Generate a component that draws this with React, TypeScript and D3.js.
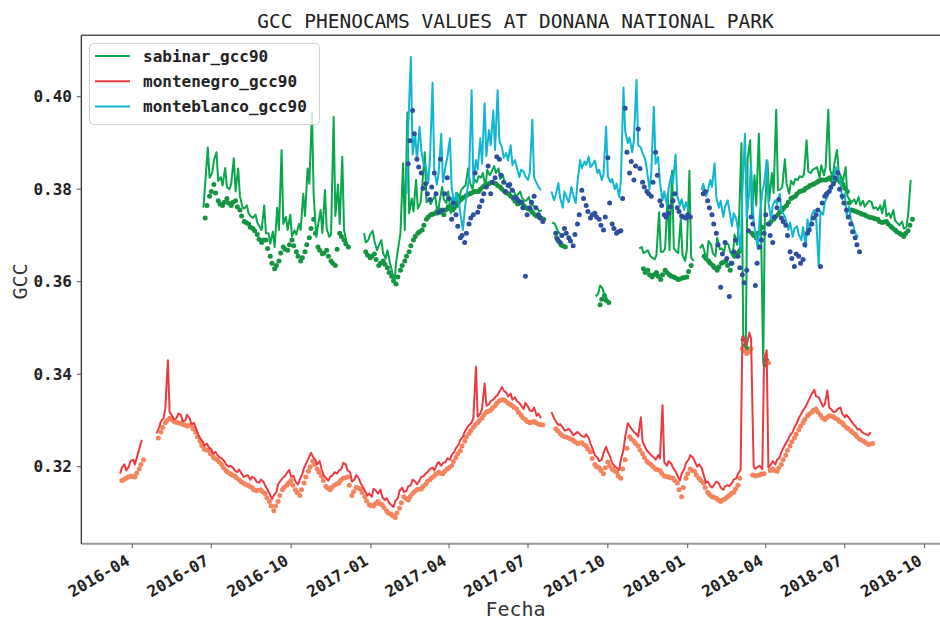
import React from "react";
import * as d3 from "d3";

// daily camera values, every 5 days (two interleaved passes)
const STEP_DAYS = 5;

const sabinarStart = "2016-06-22";
const sabinarGcc90: (number | null)[] = [
  .376, .389, .3835, .388, .3826, .3846, .380, .3867, .3845, .3761,
  .3765, .374, .3745, .3718, .3765, .3705, .3708, .376, .3885, .374,
  .3745, .3711, .3725, .379, .3845, .3965, .3697, .3755, .3798, .3697,
  .3956, .381, .387, .3683, null, null, null, .3705, .369, .371,
  .3668, .369, .365, .364, .3597, .368, .3856, .3966, .378, .382,
  .377, .388, .3776, .378, .3745, .3805, .377, .3748, .3765, .3783,
  .3805, .3845, .380, .3815, .3825, .3805, .383, .385, .3845, .383,
  .381, .380, .3785, .3795, .3775, .3783, .3765, .3758, .3755, null,
  null, .3725, .3705, .370, null, null, null, null, null, null,
  null, .3575, .3585, .3565, null, null, null, null, null, null,
  null, .3675, .3665, .3655, .3648, .375, .3665, .379, .384, .3665,
  .3735, .3645, .384, .3645, null, .368, .3645, .368, .3655, .367,
  .3665, .368, .3655, .368, .390, .346, .3906, .383, .392, .3425,
  .386, .3835, .3972, .380, .3865, .379, .381, .382, .3826, .3906,
  .3835, .3845, .3825, .383, .3972, .3826, .3885, .3826, .3848, .3776,
  .3778, .3783, .3775, .377, .3772, .3761, .3765, .3776, .3748, .3755,
  .3726, .373, .3718, .382,
];
const sabinarBStart = "2016-06-24";
const sabinarGcc90B: (number | null)[] = [
  .3812, .3825, .3862, .3818, .3808, .3805, .3812, .3795, .3785, .3758,
  .3748, .3738, .3728, .3712, .3705, .3682, .3675, .3712, .3725, .3712,
  .3698, .3702, .3712, .3742, .3812, .3788, .3722, .3705, .3715, .3702,
  .3742, .3725, .3712, null, null, null, null, .3685, .3702, .3688,
  .3678, .3662, .3668, .3625, .3642, .3705, .3712, .3748, .3752, .3758,
  .3805, .3772, .3768, .3785, .3772, .3778, .3795, .3782, .3792, .3798,
  .3808, .3815, .3822, .3828, .3835, .3842, .3838, .3835, .3822, .3815,
  .3805, .3798, .3788, .3782, .3775, .3768, .3762, .3752, null, null,
  .3728, .3715, .3702, null, null, null, null, null, null, null,
  .3568, .3592, .3572, null, null, null, null, null, null, null,
  .3672, .3662, .3668, .3652, .3658, .3665, .3672, .3668, .3672, .3662,
  .3658, .3668, .3652, null, .3672, .3668, .3688, .3662, .3695, .3672,
  .3685, .3665, .3702, .3725, .3485, .3865, .3745, .3765, .3778, .3755,
  .3775, .3792, .3798, .3805, .3812, .3818, .3822, .3828, .3832, .3838,
  .3842, .3848, .3852, .3848, .3842, .3855, .3838, .3818, .3785, .3772,
  .3768, .3765, .3762, .3775, .3758, .3755, .3748, .3742, .3738, .3732,
  .3722, .3715, .3745, null,
];
const sabinarDotsStart = "2016-06-24";
const sabinarDots: (number | null)[] = [
  .3738, .3785, .381, .3775, .3765, .378, .3765, .3775, .3755, .373,
  .3725, .3715, .3702, .3685, .369, .3655, .3628, .3645, .3675, .3668,
  .369, .3665, .3645, .3665, .3695, .3735, .3675, .366, .3668, .3645,
  .3635, .3705, .369, .3675, null, null, null, .3665, .3652, .366,
  .3635, .3645, .363, .3612, .3595, .3625, .3645, .3665, .369, .3705,
  .3712, .3735, .3745, .3748, .3755, .3745, .3762, .3755, .3765, .3778,
  .3785, .379, .3795, .3795, .3805, .381, .3815, .3812, .3805, .3795,
  .379, .378, .3768, .3772, .376, .3755, .3745, .374, .3735, null,
  null, .3695, .368, .3675, null, null, null, null, null, null,
  null, .355, .357, .3555, null, null, null, null, null, null,
  null, .3628, .3625, .361, .362, .3605, .3625, .3615, .361, .3605,
  .3608, .361, .3635, null, null, .3655, .3645, .3635, .3625, .364,
  .3645, .3625, .3655, .3665, .3475, .3455, .3705, .3695, .3715, .342,
  .3725, .3735, .3745, .3755, .3765, .378, .3785, .3795, .3798, .3805,
  .381, .3815, .382, .382, .3825, .3818, .3822, .381, .3795, .3755,
  .3752, .3748, .3745, .374, .3738, .3735, .3728, .373, .372, .3712,
  .3705, .3698, .371, .3735,
];
const sabinarDotsBStart = "2016-06-26";
const sabinarDotsB: (number | null)[] = [
  .3765, .3795, .3792, .3768, .3772, .377, .3772, .3762, .3742, .3728,
  .3718, .371, .3692, .369, .3672, .364, .3635, .3662, .367, .368,
  .3678, .3655, .3652, .368, .3715, .3705, .3668, .3662, .3655, .364,
  .367, .3698, .3682, null, null, null, null, .3658, .3655, .3648,
  .364, .3638, .362, .3602, .361, .3635, .3655, .3678, .3698, .3708,
  .3722, .374, .3746, .3752, .375, .3755, .3758, .376, .3772, .3782,
  .3788, .3792, .3795, .38, .3808, .3812, .3814, .3808, .38, .3792,
  .3785, .3774, .377, .3765, .3758, .375, .3742, .3738, null, null,
  null, .3688, .3678, null, null, null, null, null, null, null,
  null, .3562, .356, null, null, null, null, null, null, null,
  null, .362, .3615, .3615, .3612, .3615, .362, .3612, .3608, .3606,
  .3609, .3622, null, null, null, .365, .364, .363, .3632, .3642,
  .3635, .364, .366, .367, .3462, .345, .37, .3705, .3718, .343,
  .373, .374, .375, .376, .3772, .3782, .379, .3796, .3802, .3808,
  .3812, .3818, .382, .3822, .382, .382, .3815, .3802, .377, .3754,
  .375, .3746, .3742, .3739, .3736, .373, .3729, .3725, .3716, .3708,
  .3702, .3704, .3722, null,
];

const montenegroStart = "2016-03-18";
const montenegroGcc90: (number | null)[] = [
  .3185, .3205, .3200, .3215, .3225, .3258, null, null, null, .3285,
  .3305, .343, .331, .3305, .3312, .330, .3305, .3295, .327, .3255,
  .325, .3238, .3232, .322, .3212, .320, .3198, .3188, .3185, .318,
  .3172, .3175, .3165, .3168, .315, .313, .3145, .317, .318, .3193,
  .318, .3162, .3185, .321, .323, .3215, .3212, .318, .317, .3182,
  .3185, .3195, .3205, .3188, .3172, .3175, .3155, .3138, .3135, .3148,
  .315, .3128, .3122, .3113, .3132, .3155, .3148, .316, .3168, .317,
  .318, .319, .3198, .3205, .3202, .321, .3215, .3232, .3248, .3265,
  .3285, .3295, .3416, .3315, .338, .3335, .3345, .3355, .3372, .336,
  .3358, .335, .3338, .3325, .333, .332, .331, .3305, null, null,
  .3305, .329, .3285, .328, .3275, .3272, .327, .3264, .3262, .3236,
  .322, .3215, .3243, .322, .320, .3193, .3236, .3294, .328, .327,
  .3307, .3242, .3229, .322, .3225, .3333, .3202, .3207, .319, .317,
  .3195, .3215, .322, .320, .3198, .3165, .3158, .3162, .3164, .315,
  .316, .3165, .3175, .3193, .3475, .349, .320, .320, .3195, .3452,
  .3205, .3205, .322, .3243, .326, .3275, .3295, .3315, .333, .335,
  .3366, .335, .333, .3365, .3323, .332, .3328, .3307, .3305, .3292,
  .328, .3275, .327, .3275,
];
const montenegroBStart = "2016-03-20";
const montenegroGcc90B: (number | null)[] = [
  .3198, .3192, .3212, .3205, .3238, null, null, null, .3272, .3298,
  .3325, .3318, .3302, .3315, .3298, .3312, .3292, .3285, .3262, .3245,
  .3242, .3228, .3225, .3218, .3205, .3202, .3192, .3194, .3178, .3182,
  .3178, .3168, .3172, .316, .3142, .3138, .3162, .3175, .3186, .3178,
  .3168, .3172, .3198, .3218, .3222, .3205, .3195, .3176, .3178, .3188,
  .3192, .3208, .3192, .3168, .3182, .3165, .3148, .3142, .3152, .3142,
  .3135, .3132, .3118, .3125, .3148, .3145, .3158, .3172, .3162, .3178,
  .3185, .3195, .3192, .321, .3208, .3218, .3225, .324, .3258, .3275,
  .329, .3305, .3308, .3325, .3332, .3342, .335, .3362, .3365, .3352,
  .3345, .3342, .3332, .3338, .3322, .3328, .3315, null, null, .3318,
  .3298, .3292, .3278, .3282, .3268, .3275, .3266, .327, .325, .3225,
  .3212, .323, .3232, .3208, .3198, .3215, .3265, .3288, .3275, .3265,
  .3255, .3235, .3225, .3215, .3218, .321, .3212, .3198, .3182, .3185,
  .3208, .3225, .3212, .3205, .3185, .3168, .3155, .3168, .3155, .3158,
  .3158, .3172, .3185, .3482, .3462, .3478, .3195, .3202, .343, .3198,
  .3212, .3215, .3232, .325, .3268, .3285, .3305, .3322, .3338, .3358,
  .3352, .3342, .3335, .3328, .3318, .3325, .3315, .3312, .33, .3288,
  .3282, .3272, .3268, null,
];
const montenegroDotsStart = "2016-03-20";
const montenegroDots: (number | null)[] = [
  .317, .3175, .318, .3178, .3195, .3215, null, null, null, .3275,
  .3295, .3305, .3298, .3295, .3292, .3288, .329, .3275, .3255, .3238,
  .3235, .3222, .3215, .3205, .3192, .3185, .318, .3172, .3165, .316,
  .3155, .3148, .315, .3142, .3125, .3105, .3125, .315, .316, .317,
  .315, .3138, .3165, .319, .3212, .3195, .318, .3158, .315, .316,
  .3165, .3175, .3178, .3138, .3155, .3152, .3135, .3118, .3115, .3125,
  .3118, .3105, .3098, .309, .311, .3135, .3128, .3142, .315, .3152,
  .3162, .3172, .318, .3188, .3185, .3195, .3202, .322, .3235, .3255,
  .3272, .3285, .3295, .3305, .3318, .3322, .3332, .3342, .3345, .3338,
  .3332, .3325, .3312, .3302, .3295, .3298, .3292, .329, null, null,
  .3282, .3272, .3265, .3262, .3258, .325, .3252, .3245, .3232, .3205,
  .3198, .3185, .321, .3195, .3188, .3175, .3215, .3265, .3255, .3245,
  .3228, .3212, .3205, .3195, .3192, .318, .3178, .3175, .3165, .3135,
  .3175, .3195, .319, .3175, .3165, .3145, .3135, .3132, .3125, .313,
  .3138, .3145, .316, .3455, .3445, .3455, .318, .3182, .3185, .3425,
  .3195, .319, .3205, .3225, .3245, .3262, .328, .3295, .331, .3318,
  .3325, .3312, .3302, .331, .3308, .3302, .3295, .3285, .3278, .327,
  .326, .3255, .3248, .325,
];
const montenegroDotsBStart = "2016-03-22";
const montenegroDotsB: (number | null)[] = [
  .3172, .3178, .3179, .3186, .3205, null, null, null, .3262, .3285,
  .33, .3302, .3296, .3294, .329, .3289, .3282, .3265, .3246, .3236,
  .3228, .3218, .321, .3198, .3188, .3182, .3176, .3168, .3162, .3158,
  .315, .3149, .3146, .3133, .3115, .3115, .3138, .3155, .3165, .316,
  .3144, .315, .3178, .32, .3205, .3188, .317, .3154, .3155, .3162,
  .317, .3176, .316, .3146, .3154, .3144, .3126, .3116, .312, .312,
  .3112, .31, .3094, .31, .3122, .3132, .3135, .3146, .3151, .3157,
  .3168, .3176, .3184, .3186, .319, .3198, .3211, .3228, .3245, .3264,
  .3278, .329, .33, .3312, .332, .3327, .3337, .3344, .3342, .3335,
  .3328, .3318, .3306, .3298, .3296, .3295, .3291, null, null, null,
  .3278, .3268, .3264, .326, .3254, .3251, .3248, .3238, .3218, .32,
  .3192, .3198, .3202, .3192, .318, .3195, .324, .326, .325, .3236,
  .322, .3208, .32, .3194, .3186, .3179, .3176, .317, .315, .3155,
  .3185, .3192, .3182, .317, .3155, .314, .3134, .3128, .3128, .3134,
  .3142, .3152, .3175, .345, .3448, .3182, .3181, .3184, .344, .3192,
  .3192, .3198, .3215, .3235, .3254, .327, .3288, .3302, .3314, .3322,
  .3318, .3306, .3306, .3309, .3305, .3298, .329, .3282, .3274, .3265,
  .3258, .3252, .3249, null,
];

const monteblancoStart = "2017-02-11";
const monteblancoGcc90: (number | null)[] = [
  .379, .4086, .392, .3935, .385, .3813, .403, .381, .392, .385,
  .391, .3765, .3775, .3712, .3798, .4014, .3863, .391, .3986, .3928,
  .397, .4014, .389, .3878, .3895, .3863, .3826, .3838, .382, .395,
  .3813, .3798, null, null, .3776, .3813, .376, .378, .3805, .377,
  .3863, .386, .387, .3855, .3835, .382, .3935, .3815, .380, .3783,
  .402, .390, .388, .4036, .389, .3865, .380, .3978, .387, .3776,
  .3765, .383, .3875, .3765, .3755, .3755, null, null, .3798, .3785,
  .382, .3856, .376, .374, .3776, .372, .3735, .3668, .392, .3795,
  .373, .367, .3795, .3863, .3735, .3776, .379, .3745, .3712, .3697,
  .372, .369, .3675, .3712, .3755, .3633, .3745, .3783, .380, .3848,
  .3815, .379, .3762, .372, .3697,
];
const monteblancoBStart = "2017-02-13";
const monteblancoGcc90B: (number | null)[] = [
  .3935, .3875, .3862, .3885, .3852, .3865, .3842, .3835, .3815, .3868,
  .3805, .3792, .3748, .3755, .3822, .3815, .3842, .3855, .3872, .3895,
  .3885, .3905, .3868, .3862, .3852, .3848, .3842, .3828, .3835, .3825,
  .3805, null, null, .3795, .3788, .3782, .3795, .3772, .3788, .3815,
  .3845, .3852, .3848, .3862, .3842, .3832, .3828, .3822, .3812, .3818,
  .3925, .3912, .3905, .3895, .3878, .3842, .3835, .3855, .3815, .3795,
  .3802, .3812, .3785, .3778, .3772, null, null, null, .3812, .3795,
  .3805, .3782, .3775, .3762, .3755, .3748, .3712, .3795, .3738, .3855,
  .3705, .3742, .3812, .3772, .3765, .3768, .3752, .3735, .3728, .3715,
  .3702, .3718, .3735, .3745, .3738, .3752, .3772, .3795, .3825, .3832,
  .3778, .3745, .3735, .3705, null,
];
const monteblancoDotsStart = "2017-02-13";
const monteblancoDots: (number | null)[] = [
  .3855, .397, .3865, .3835, .3812, .3778, .3835, .375, .3755, .3825,
  .3735, .3745, .3695, .3685, .3725, .3745, .375, .3775, .3805, .379,
  .3825, .3865, .3815, .3808, .3798, .378, .3772, .3612, .376, .3785,
  .3745, .373, null, null, .3705, .3685, .3715, .3695, .3678, .3725,
  .3798, .3765, .3738, .3748, .3735, .3712, .3868, .3725, .3705, .371,
  .3975, .3835, .382, .393, .3815, .3795, .3785, .388, .3775, .3745,
  .3748, .3775, .376, .3742, .3738, .374, null, null, .379, .3775,
  .3745, .3705, .3588, .3685, .3568, .3665, .3655, .3615, .3625, .374,
  .3592, .3675, .3705, .3725, .3685, .376, .3738, .3722, .3665, .3633,
  .3655, .3648, .3705, .3725, .3745, .3633, .3785, .3795, .3812, .3835,
  .3785, .3755, .3725, .3695, .3665,
];
const monteblancoDotsBStart = "2017-02-15";
const monteblancoDotsB: (number | null)[] = [
  .3905, .392, .3848, .3802, .379, .3805, .379, .3865, .379, .378,
  .377, .372, .37, .3705, .3738, .3835, .3762, .379, .385, .3815,
  .387, .383, .3795, .381, .3782, .3775, .376, .3745, .3772, .376,
  .3738, null, null, null, .3692, .37, .3705, .3688, .3702, .3745,
  .378, .3752, .3745, .374, .3722, .374, .377, .3715, .3708, .378,
  .388, .386, .385, .3845, .3805, .379, .3815, .383, .3765, .374,
  .3762, .379, .3752, .374, .3745, null, null, null, .3795, .376,
  .3725, .368, .366, .365, .364, .369, .363, .3598, .371, .3725,
  .364, .369, .3745, .37, .374, .3778, .373, .37, .365, .366,
  .364, .368, .3712, .3738, .3755, .377, .379, .3805, .3825, .38,
  .377, .374, .3708, .368, null,
];

const yTicks = [0.32, 0.34, 0.36, 0.38, 0.40];
const legendNames = ["sabinar_gcc90", "montenegro_gcc90", "monteblanco_gcc90"];
const lineColors = ["#0aa64b", "#ec3a43", "#10b6d2"];
const dotColors = ["#13953f", "#f5845c", "#2d4f9f"];

const W = 940;
const H = 621;
const plot = { left: 81.3, right: 950, top: 35.3, bottom: 543.7 };
const mono = "'DejaVu Sans Mono', monospace";

const x = d3
  .scaleUtc()
  .domain([new Date("2016-04-01T00:00:00Z"), new Date("2018-10-01T00:00:00Z")])
  .range([132.3, 924.6]);

const y = d3.scaleLinear().domain([0.32, 0.40]).range([466.7, 96.7]);

interface Pt {
  date: Date;
  v: number | null;
}

function toPoints(start: string, values: (number | null)[]): Pt[] {
  const t0 = new Date(start + "T00:00:00Z");
  return values.map((v, i) => ({ date: d3.utcDay.offset(t0, i * STEP_DAYS), v }));
}

// two passes of the same series, put back in date order
function merged(a: Pt[], b: Pt[]): Pt[] {
  return a.concat(b).sort((p, q) => p.date.getTime() - q.date.getTime());
}

const line = d3
  .line<Pt>()
  .defined((d) => d.v != null)
  .x((d) => x(d.date))
  .y((d) => y(d.v as number));

function Dots({ pts, color }: { pts: Pt[]; color: string }) {
  return (
    <g fill={color}>
      {pts
        .filter((d) => d.v != null)
        .map((d, i) => (
          <circle key={i} cx={x(d.date)} cy={y(d.v as number)} r={2.5} />
        ))}
    </g>
  );
}

export default function App() {
  const lines = [
    merged(toPoints(sabinarStart, sabinarGcc90), toPoints(sabinarBStart, sabinarGcc90B)),
    merged(toPoints(montenegroStart, montenegroGcc90), toPoints(montenegroBStart, montenegroGcc90B)),
    merged(toPoints(monteblancoStart, monteblancoGcc90), toPoints(monteblancoBStart, monteblancoGcc90B)),
  ];
  const dots = [
    toPoints(sabinarDotsStart, sabinarDots).concat(toPoints(sabinarDotsBStart, sabinarDotsB)),
    toPoints(montenegroDotsStart, montenegroDots).concat(toPoints(montenegroDotsBStart, montenegroDotsB)),
    toPoints(monteblancoDotsStart, monteblancoDots).concat(toPoints(monteblancoDotsBStart, monteblancoDotsB)),
  ];
  const xTicks = x.ticks(d3.utcMonth.every(3) as d3.TimeInterval);
  const fmt = d3.utcFormat("%Y-%m");

  return (
    <div style={{ position: "absolute", left: 0, top: 0 }}>
      <svg width={W} height={H} style={{ display: "block", background: "#fff" }}>
        <defs>
          <clipPath id="plotClip">
            <rect x={plot.left} y={plot.top} width={plot.right - plot.left} height={plot.bottom - plot.top} />
          </clipPath>
        </defs>

        <g clipPath="url(#plotClip)">
          <Dots pts={dots[0]} color={dotColors[0]} />
          <path d={line(lines[0]) || ""} fill="none" stroke={lineColors[0]} strokeWidth={2} strokeLinejoin="round" />
          <Dots pts={dots[1]} color={dotColors[1]} />
          <path d={line(lines[1]) || ""} fill="none" stroke={lineColors[1]} strokeWidth={2} strokeLinejoin="round" />
          <path d={line(lines[2]) || ""} fill="none" stroke={lineColors[2]} strokeWidth={2} strokeLinejoin="round" />
          <Dots pts={dots[2]} color={dotColors[2]} />
        </g>

        {/* frame */}
        <line x1={plot.left} x2={plot.right} y1={plot.top} y2={plot.top} stroke="#555" strokeWidth={1.5} />
        <line x1={plot.left} x2={plot.right} y1={plot.bottom} y2={plot.bottom} stroke="#9a9a9a" strokeWidth={2} />
        <line x1={plot.left} x2={plot.left} y1={plot.top} y2={plot.bottom} stroke="#222" strokeWidth={1.2} />

        {/* y axis */}
        {yTicks.map((t) => (
          <g key={t}>
            <line x1={plot.left - 4.5} x2={plot.left} y1={y(t)} y2={y(t)} stroke="#555" />
            <text
              x={72}
              y={y(t)}
              dy="0.36em"
              textAnchor="end"
              fontFamily={mono}
              fontWeight="bold"
              fontSize={16}
              fill="#222"
            >
              {d3.format(".2f")(t)}
            </text>
          </g>
        ))}
        <text
          transform={`translate(20,281.5) rotate(-90)`}
          textAnchor="middle"
          dy="0.36em"
          fontFamily={mono}
          fontSize={20}
          fill="#333"
        >
          GCC
        </text>

        {/* x axis */}
        {xTicks.map((t) => (
          <g key={t.getTime()}>
            <line x1={x(t)} x2={x(t)} y1={plot.bottom} y2={plot.bottom + 4.5} stroke="#555" />
            <text
              transform={`translate(${x(t) - 1.5},564) rotate(-30)`}
              textAnchor="end"
              fontFamily={mono}
              fontWeight="bold"
              fontSize={16}
              fill="#222"
            >
              {fmt(t)}
            </text>
          </g>
        ))}
        <text x={515.5} y={616} textAnchor="middle" fontFamily={mono} fontSize={20} fill="#333">
          Fecha
        </text>

        {/* title */}
        <text x={515.5} y={28} textAnchor="middle" fontFamily={mono} fontSize={19.5} fill="#222">
          GCC PHENOCAMS VALUES AT DONANA NATIONAL PARK
        </text>

        {/* legend */}
        <g>
          <rect x={89.5} y={43.5} width={230} height={81} rx={4} fill="#fff" fillOpacity={0.8} stroke="#d0d0d0" />
          {legendNames.map((name, i) => (
            <g key={name} transform={`translate(0,${56 + i * 25.3})`}>
              <line x1={95} x2={130} y1={0} y2={0} stroke={lineColors[i]} strokeWidth={2} />
              <text x={143} y={0} dy="0.36em" fontFamily={mono} fontWeight="bold" fontSize={16} fill="#222">
                {name}
              </text>
            </g>
          ))}
        </g>
      </svg>
    </div>
  );
}
